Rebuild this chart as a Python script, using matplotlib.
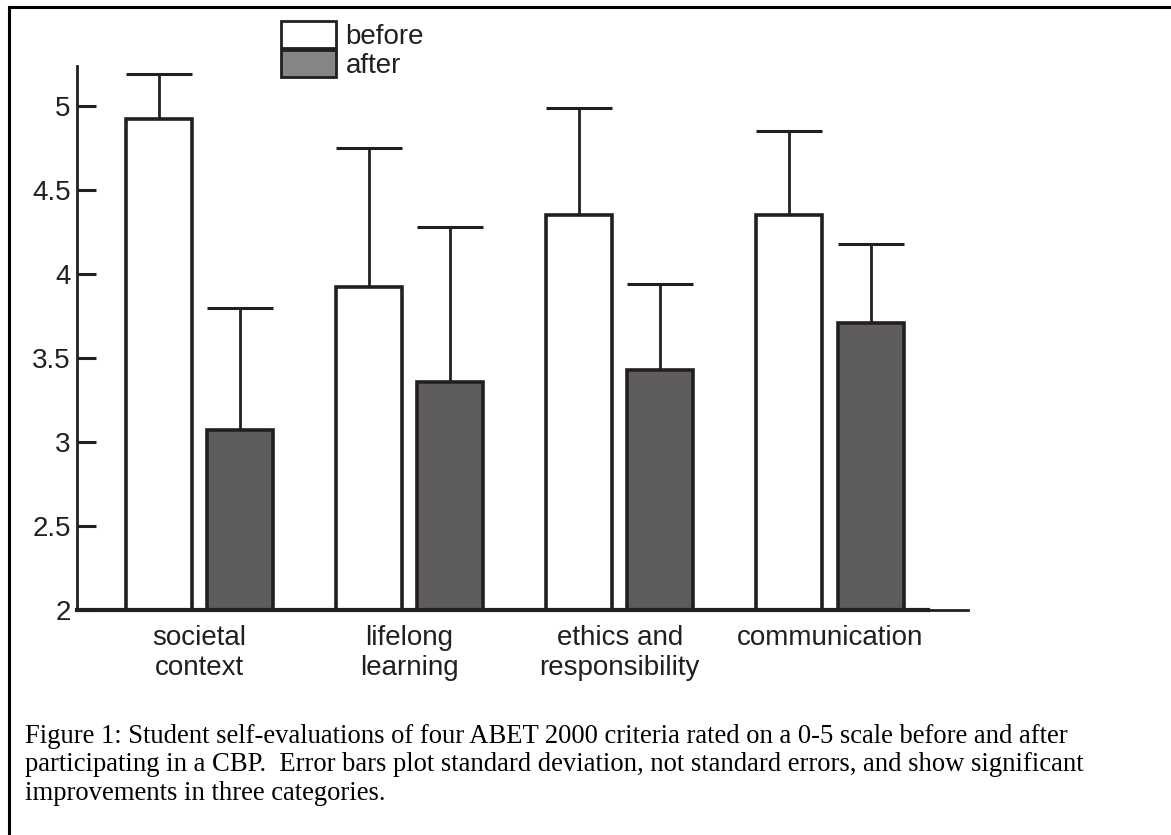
import numpy as np
import matplotlib
matplotlib.use("Agg")
import matplotlib.pyplot as plt
from matplotlib.patches import Patch
from matplotlib.lines import Line2D

# values (0-5 scale, axis cut at 2)
categories = ["societal\ncontext", "lifelong\nlearning", "ethics and\nresponsibility", "communication"]
before_mean = [4.92, 3.92, 4.35, 4.35]
before_sd = [0.27, 0.83, 0.64, 0.50]
after_mean = [3.07, 3.36, 3.43, 3.71]
after_sd = [0.73, 0.92, 0.51, 0.47]
y_ticks = [2, 2.5, 3, 3.5, 4, 4.5, 5]
y_tick_labels = ["2", "2.5", "3", "3.5", "4", "4.5", "5"]

caption = ("Figure 1: Student self-evaluations of four ABET 2000 criteria rated on a 0-5 scale before and after\n"
           "participating in a CBP.  Error bars plot standard deviation, not standard errors, and show significant\n"
           "improvements in three categories.")

INK = "#231f20"
AFTER_FILL = "#5e5d5b"
LEGEND_AFTER = "#858585"

plt.rcParams['font.family'] = ['Liberation Sans', 'DejaVu Sans']

fig = plt.figure(figsize=(11.71, 8.35), dpi=100)
ax = fig.add_axes([0.06576, 0.26946, 0.72673, 0.65150])

x = np.arange(len(categories))
offset = 0.193
width = 0.314

ax.bar(x - offset, before_mean, width, color="white", edgecolor=INK, linewidth=2.6, zorder=2)
ax.bar(x + offset, after_mean, width, color=AFTER_FILL, edgecolor=INK, linewidth=2.6, zorder=2)

# only the upper half of the error bars is drawn
cap = 23.5
ax.errorbar(x - offset, before_mean, yerr=[np.zeros(len(x)), before_sd], fmt="none",
            ecolor=INK, elinewidth=2.0, capsize=cap, capthick=2.2, zorder=1)
ax.errorbar(x + offset, after_mean, yerr=[np.zeros(len(x)), after_sd], fmt="none",
            ecolor=INK, elinewidth=2.0, capsize=cap, capthick=2.2, zorder=1)

ax.set_xlim(-0.582, 3.466)
ax.set_ylim(2, 5.238)

ax.spines['top'].set_visible(False)
ax.spines['right'].set_visible(False)
ax.spines['left'].set_linewidth(2.0)
ax.spines['left'].set_color(INK)
ax.spines['bottom'].set_linewidth(3.0)
ax.spines['bottom'].set_color(INK)
ax.spines['bottom'].set_zorder(3)

# thin continuation of the baseline past the plot
ax.plot([1.0, 1.047], [2, 2], transform=ax.get_yaxis_transform(), color=INK,
        linewidth=2.0, clip_on=False)

ax.set_yticks(y_ticks)
ax.set_yticklabels(y_tick_labels)
ax.tick_params(axis='y', direction='in', length=13.7, width=2.2, color=INK,
               labelsize=20, labelcolor=INK, pad=4.5)
ax.set_xticks(x)
ax.set_xticklabels(categories)
ax.tick_params(axis='x', length=0, labelsize=20, labelcolor=INK, pad=11)

handles = [Patch(facecolor="white", edgecolor=INK, linewidth=2.0, label="before"),
           Patch(facecolor=LEGEND_AFTER, edgecolor=INK, linewidth=2.0, label="after")]
fig.legend(handles=handles, loc="upper left", bbox_to_anchor=(280.7 / 1171, 1 - 21.3 / 835),
           frameon=False, fontsize=20, handlelength=2.0, handleheight=1.1,
           labelspacing=0.0, handletextpad=0.33, borderpad=0, borderaxespad=0,
           labelcolor=INK)

fig.text(25 / 1171, 1 - 724 / 835, caption, family=['Liberation Serif', 'DejaVu Serif'],
         fontsize=19.2, va="top", ha="left", color="black", linespacing=1.18)

# page frame (left and top edges only are in view)
fig.add_artist(Line2D([8.5 / 1171, 8.5 / 1171], [0, 1 - 7 / 835], color="black", linewidth=2.2))
fig.add_artist(Line2D([8.5 / 1171, 1], [1 - 7 / 835, 1 - 7 / 835], color="black", linewidth=2.2))

fig.savefig("out.png", dpi=100)
